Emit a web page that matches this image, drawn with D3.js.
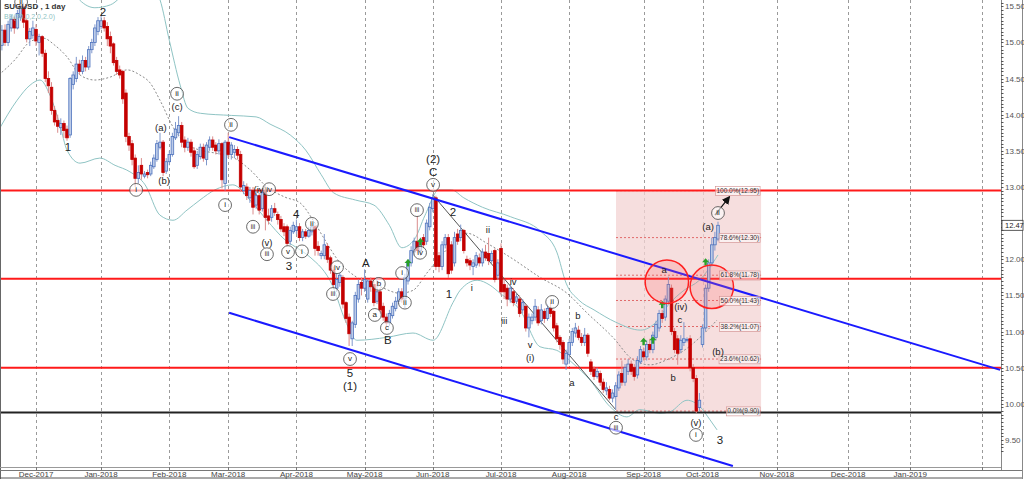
<!DOCTYPE html>
<html>
<head>
<meta charset="utf-8">
<script src="https://cdn.jsdelivr.net/npm/d3@7"></script>
<style>
  body { margin: 0; background: #fff; overflow: hidden; }
  text { font-family: Arial, "Liberation Sans", sans-serif; }
</style>
</head>
<body>
<svg id="chart" width="1024" height="479"></svg>
<script>
// daily candles, one row per trading day from mid Nov 2017: [open, high, low, close]
var candles = [
  [14.96,15.24,14.89,15.17],[15.17,15.25,14.95,15.0],[15.0,15.3,14.95,15.25],[15.2,15.38,15.15,15.32],[15.32,15.36,15.12,15.2],
  [15.2,15.45,15.18,15.4],[15.35,15.56,15.3,15.5],[15.5,15.55,15.2,15.28],[15.3,15.33,15.0,15.05],[15.05,15.2,14.95,15.15],
  [15.1,15.3,15.05,15.2],[15.18,15.25,14.95,15.02],[15.0,15.12,14.82,15.08],[15.08,15.1,14.8,14.85],[14.85,14.9,14.45,14.5],
  [14.5,14.6,14.3,14.4],[14.38,14.45,14.0,14.06],[14.06,14.12,13.85,13.9],[13.92,14.0,13.75,13.84],[13.82,13.95,13.72,13.88],
  [13.88,13.92,13.68,13.78],[13.8,13.85,13.64,13.68],[13.72,14.52,13.68,14.5],[14.42,14.6,14.35,14.55],[14.5,14.8,14.45,14.7],
  [14.7,14.76,14.55,14.6],[14.6,14.82,14.56,14.75],[14.75,14.8,14.6,14.66],[14.66,14.95,14.62,14.9],[14.9,15.05,14.85,15.0],
  [15.0,15.25,14.95,15.2],[15.15,15.35,15.1,15.3],[15.22,15.38,15.18,15.3],[15.3,15.35,15.15,15.2],[15.22,15.28,14.95,15.05],
  [15.08,15.15,14.85,14.95],[14.98,15.0,14.68,14.72],[14.75,14.8,14.55,14.6],[14.62,14.68,14.5,14.55],[14.6,14.62,14.15,14.22],
  [14.3,14.35,13.62,13.7],[13.7,13.75,13.5,13.58],[13.6,13.65,13.3,13.38],[13.4,13.45,13.0,13.12],[13.12,13.3,13.05,13.2],
  [13.3,13.4,13.1,13.18],[13.15,13.22,13.12,13.18],[13.2,13.24,13.12,13.17],[13.18,13.35,13.15,13.3],[13.28,13.45,13.25,13.4],
  [13.38,13.65,13.35,13.6],[13.55,13.75,13.52,13.62],[13.62,13.65,13.15,13.2],[13.22,13.4,13.18,13.35],[13.35,13.5,13.3,13.45],
  [13.45,13.75,13.42,13.7],[13.68,13.9,13.65,13.8],[13.75,13.98,13.7,13.85],[13.85,13.9,13.55,13.62],[13.65,13.7,13.48,13.55],
  [13.55,13.68,13.5,13.62],[13.62,13.66,13.42,13.48],[13.5,13.55,13.25,13.28],[13.3,13.5,13.25,13.45],[13.42,13.6,13.38,13.55],
  [13.55,13.6,13.35,13.4],[13.38,13.62,13.3,13.58],[13.55,13.7,13.5,13.65],[13.65,13.7,13.5,13.55],[13.58,13.62,13.45,13.5],
  [13.5,13.66,13.45,13.6],[13.6,13.62,12.98,13.1],[13.05,13.65,12.95,13.62],[13.62,13.75,13.4,13.45],[13.45,13.62,13.38,13.58],
  [13.48,13.58,13.4,13.52],[13.52,13.56,13.38,13.44],[13.45,13.5,12.93,13.0],[12.95,13.08,12.9,13.02],[13.0,13.05,12.82,12.88],
  [12.85,13.0,12.78,12.95],[12.95,13.0,12.62,12.72],[12.75,12.95,12.7,12.88],[12.88,12.92,12.62,12.68],[12.7,12.98,12.66,12.92],
  [12.95,13.0,12.4,12.58],[12.6,12.7,12.48,12.54],[12.58,12.75,12.52,12.7],[12.7,12.78,12.6,12.65],[12.62,12.66,12.48,12.55],
  [12.55,12.6,12.38,12.42],[12.45,12.5,12.32,12.38],[12.45,12.48,12.18,12.22],[12.25,12.45,12.2,12.4],[12.38,12.52,12.35,12.47],
  [12.4,12.55,12.35,12.45],[12.45,12.5,12.25,12.3],[12.3,12.42,12.25,12.38],[12.38,12.42,12.28,12.32],[12.32,12.45,12.3,12.4],
  [12.38,12.5,12.33,12.45],[12.45,12.48,12.05,12.15],[12.18,12.25,12.05,12.12],[12.05,12.12,12.0,12.08],[12.05,12.35,12.0,12.2],
  [12.18,12.22,11.95,12.0],[12.02,12.05,11.8,11.85],[11.85,11.9,11.6,11.65],[11.6,11.8,11.55,11.72],[11.68,11.82,11.62,11.78],
  [11.75,11.78,11.32,11.38],[11.4,11.42,11.12,11.18],[11.2,11.25,10.8,10.97],[10.9,11.15,10.8,11.12],[11.1,11.55,11.05,11.5],
  [11.45,11.72,11.4,11.65],[11.68,11.75,11.5,11.6],[11.6,11.86,11.55,11.72],[11.45,11.72,11.4,11.7],[11.7,11.75,11.55,11.62],
  [11.65,11.7,11.35,11.4],[11.42,11.75,11.38,11.55],[11.55,11.6,11.25,11.3],[11.35,11.4,11.15,11.2],[11.2,11.25,11.06,11.12],
  [11.12,11.3,11.08,11.25],[11.22,11.4,11.18,11.35],[11.32,11.48,11.28,11.42],[11.42,11.6,11.38,11.55],[11.55,11.6,11.4,11.45],
  [11.45,11.8,11.32,11.75],[11.7,12.0,11.65,11.95],[11.95,12.18,11.9,12.12],[12.1,12.3,12.05,12.25],[12.25,12.6,12.08,12.12],
  [12.12,12.3,12.05,12.25],[12.3,12.35,12.15,12.2],[12.25,12.55,12.2,12.5],[12.45,12.78,12.4,12.72],[12.7,12.9,12.65,12.85],
  [12.85,12.88,11.85,11.9],[12.05,12.1,11.82,11.9],[11.9,12.25,11.85,12.2],[12.2,12.35,12.15,12.3],[12.3,12.35,11.74,11.8],
  [12.2,12.25,11.8,11.85],[11.95,12.38,11.9,12.3],[12.35,12.42,12.2,12.25],[12.3,12.48,12.25,12.4],[12.4,12.42,12.08,12.12],
  [12.0,12.05,11.9,11.95],[11.98,12.02,11.85,11.92],[11.9,12.0,11.78,11.95],[11.92,12.1,11.88,12.05],[12.02,12.08,11.9,11.95],
  [11.95,12.15,11.9,12.1],[12.1,12.2,11.98,12.02],[12.08,12.3,11.92,11.98],[11.98,12.12,11.95,12.08],[12.12,12.15,11.68,11.72],
  [11.78,12.0,11.72,11.95],[12.15,12.22,11.5,11.55],[11.65,11.72,11.45,11.55],[11.6,11.65,11.35,11.45],[11.45,11.65,11.4,11.6],
  [11.55,11.6,11.35,11.4],[11.42,11.52,11.38,11.48],[11.45,11.5,11.2,11.25],[11.3,11.45,11.25,11.4],[11.35,11.38,11.0,11.05],
  [11.05,11.25,10.92,11.2],[11.15,11.25,11.1,11.2],[11.2,11.45,11.15,11.35],[11.3,11.35,11.08,11.12],[11.15,11.38,11.1,11.3],
  [11.28,11.32,11.12,11.18],[11.18,11.38,11.15,11.32],[11.32,11.4,11.2,11.25],[11.28,11.3,11.0,11.05],[11.08,11.12,10.85,10.9],
  [10.92,10.95,10.75,10.82],[10.85,10.88,10.55,10.62],[10.55,10.75,10.47,10.7],[10.68,10.9,10.55,10.85],[10.85,11.05,10.8,11.0],
  [10.98,11.12,10.92,11.05],[11.02,11.08,10.88,10.92],[10.92,10.98,10.8,10.85],[10.85,11.05,10.8,10.95],[10.95,10.98,10.65,10.7],
  [10.58,10.62,10.4,10.45],[10.48,10.52,10.33,10.38],[10.38,10.5,10.35,10.45],[10.42,10.46,10.25,10.3],[10.3,10.35,10.15,10.2],
  [10.18,10.3,10.12,10.22],[10.2,10.25,10.05,10.08],[10.08,10.2,10.02,10.15],[10.1,10.3,9.92,10.25],[10.22,10.45,10.18,10.4],
  [10.42,10.6,10.25,10.3],[10.3,10.55,10.25,10.5],[10.45,10.62,10.4,10.55],[10.55,10.6,10.4,10.45],[10.5,10.55,10.32,10.38],
  [10.4,10.66,10.35,10.6],[10.58,10.8,10.55,10.75],[10.72,10.78,10.6,10.65],[10.65,10.88,10.6,10.82],[10.82,10.9,10.7,10.75],
  [10.75,11.0,10.7,10.95],[10.92,11.15,10.88,11.1],[11.05,11.3,11.0,11.25],[11.25,11.3,11.12,11.18],[11.2,11.5,11.15,11.45],
  [11.42,11.76,11.38,11.65],[11.6,11.65,10.95,11.0],[11.0,11.05,10.7,10.75],[10.9,10.95,10.54,10.7],[10.75,10.95,10.7,10.88],
  [10.85,11.13,10.8,10.9],[10.88,10.92,10.85,10.89],[10.9,10.95,10.45,10.5],[10.5,10.55,10.3,10.35],[10.35,10.4,9.87,9.9],
  [9.95,10.15,9.9,10.05],[10.82,11.1,10.78,11.05],[11.05,11.65,11.0,11.6],[11.6,12.0,11.55,11.95],[11.95,12.3,11.9,12.2],
  [12.2,12.38,12.12,12.3],[12.28,12.52,12.25,12.47]
];
var lastPrice = 12.47;

// Bollinger band (20, 2): [bar, price]
var bbUpper = [[-1,16.55],[9,16.42],[19,16.0],[25,15.59],[30,15.48],[35,15.52],[41,15.72],[48,15.79],[51,15.59],[54,15.03],
  [57.5,14.41],[60,14.09],[64,14.02],[74,13.99],[82,13.97],[86.5,13.87],[93,13.72],[98,13.51],[103,13.17],[107,12.92],
  [114,12.82],[120,12.75],[125,12.47],[129,12.16],[133,12.27],[136.5,12.61],[141,12.96],[145,12.96],[149,12.85],[155,12.72],
  [164,12.59],[174,12.38],[179,12.10],[182,11.67],[186,11.44],[191,11.30],[198,11.13],[206,11.02],[211,11.13],[215,11.37],
  [220,11.57],[225,11.71],[231,12.06]];
var bbMiddle = [[-1,14.55],[4.2,14.76],[9.1,15.01],[13.3,15.06],[17.1,14.96],[21,14.80],[25.2,14.55],[30,14.48],[34.9,14.52],
  [40.4,14.62],[44.5,14.55],[47.8,14.44],[51,14.20],[55.2,13.83],[59.1,13.61],[63.9,13.51],[68.7,13.47],[74.5,13.41],[80,13.24],
  [85.5,13.0],[91.3,12.86],[96.2,12.78],[100.4,12.54],[103.6,12.31],[109.1,11.95],[114.5,11.75],[122,11.62],[128.4,11.53],
  [132.6,11.57],[137.1,11.81],[141.3,12.03],[145.5,12.22],[150,12.36],[156.5,12.22],[163.9,12.03],[173.6,11.75],[182.3,11.53],
  [188.7,11.26],[197.1,10.92],[203.6,10.61],[209.1,10.54],[214.5,10.61],[220.4,10.75],[225.2,10.92],[230.7,11.16]];
var bbLower = [[-1,13.79],[4.9,14.20],[9.1,14.41],[12.3,14.48],[15.5,14.27],[18.7,13.86],[21,13.51],[25.2,13.33],[31.6,13.40],
  [36.5,13.30],[41.3,13.21],[46.2,13.03],[51,12.61],[55.2,12.54],[59.7,12.68],[63.9,12.82],[68.7,12.96],[74.5,13.03],[80,12.82],
  [85.5,12.54],[91.3,12.27],[96.2,12.13],[99.4,12.03],[106.8,11.62],[110.7,11.16],[114.5,10.88],[124.2,10.92],[132.6,10.98],
  [139.1,10.88],[145.5,11.40],[147.8,11.57],[153.3,11.71],[157.5,11.64],[160.7,11.53],[167.1,11.30],[173.6,10.79],[179,10.74],
  [184.2,10.56],[189.7,10.33],[196.2,9.96],[201.6,9.82],[205.8,9.92],[212.3,9.87],[215.5,9.89],[221,10.05],[225.2,9.96],
  [228.4,9.78],[230.7,9.64]];

// time axis
var monthLabels = ["Dec-2017","Jan-2018","Feb-2018","Mar-2018","Apr-2018","May-2018","Jun-2018","Jul-2018",
  "Aug-2018","Sep-2018","Oct-2018","Nov-2018","Dec-2018","Jan-2019",""];
var monthBars = [11, 32, 54, 73, 95, 117, 139, 161, 183, 207, 226, 250, 273, 293, 316];

// price axis (12.50 is hidden behind the last price box)
var priceTicks = [9.5, 10, 10.5, 11, 11.5, 12, 13, 13.5, 14, 14.5, 15, 15.5];

// drawn levels
var redLevels = [12.95, 11.73, 10.50];
var blackLevel = 9.88;
var fibLevels = [12.95, 12.30, 11.78, 11.43, 11.07, 10.62, 9.90];
var fibNames = ["100.0%", "78.6%", "61.8%", "50.0%", "38.2%", "23.6%", "0.0%"];
var fibBars = [198.1, 244.9];

// trend lines [[bar, price], [bar, price]]
var channelTop = [[73.3, 13.69], [322, 10.47]];
var channelBottom = [[73.3, 11.26], [235.8, 9.14]];
var waveLine = [[139, 12.89], [198, 9.92]];
var targetArrow = [[230, 12.61], [234.6, 12.86]];
var zoneCircles = [[214.5, 11.69], [229, 11.62]];
var buyArrows = [[131, 11.95], [135, 12.24], [207, 10.86], [210, 10.88], [213, 11.37], [227, 11.96]];

// wave labels: [bar, price, text, kind]  kind: c = circled, s = serif, n = plain
var waveLabels = [
  [6.2,15.56,"ii","c"],[32.6,15.42,"2","n"],[21.3,13.55,"1","n"],[43.3,12.96,"i","c"],
  [51.3,13.82,"(a)","s"],[52.3,13.08,"(b)","s"],[56.5,14.11,"(c)","s"],[56.5,14.29,"ii","c"],
  [73.9,13.86,"ii","c"],[72,12.75,"i","c"],[83.3,12.96,"(iv)","s"],[86.2,12.97,"iv","c"],
  [81,12.45,"iii","c"],[85.5,12.22,"(v)","s"],[85.5,12.07,"iii","c"],[94.9,12.63,"4","n"],
  [92.3,12.10,"v","c"],[92.6,11.91,"3","n"],[96.8,12.11,"i","c"],[100,12.49,"ii","c"],
  [108.1,11.89,"iv","c"],[106.8,11.52,"iii","c"],[112.3,10.62,"v","c"],[112.3,10.43,"5","n"],
  [112.3,10.25,"(1)","n"],[117.4,11.95,"A","n"],[121.6,11.66,"b","c"],[120.3,11.23,"a","c"],
  [124.2,11.05,"c","c"],[124.5,10.88,"B","n"],[129.1,11.81,"i","c"],[130,11.40,"ii","c"],
  [133.9,12.68,"iii","c"],[134.9,12.09,"iv","c"],[139.1,13.39,"(2)","n"],[139.1,13.21,"C","n"],
  [139.1,13.03,"v","c"],[145.5,12.65,"2","n"],[144.2,11.52,"1","n"],[151.6,11.60,"i","s"],
  [156.8,12.40,"ii","s"],[164.9,11.69,"iv","s"],[162,11.15,"iii","s"],[170.4,10.81,"v","s"],
  [170.4,10.63,"(i)","s"],[177.5,11.41,"ii","c"],[185.8,11.22,"b","s"],[183.9,10.29,"a","s"],
  [198.1,9.82,"c","s"],[198.1,9.67,"iii","c"],[213.6,11.85,"a","s"],[219,11.34,"(iv)","s"],
  [218.7,11.16,"c","s"],[216.5,10.36,"b","s"],[231,10.72,"(b)","s"],[227.8,12.45,"(a)","s"],
  [231,12.64,"ii","c"],[223.9,9.74,"(v)","s"],[223.9,9.57,"i","c"],[231.6,9.50,"3","n"]
];

var width = 1024, height = 479;
var plotRight = 1001, plotBottom = 467;

var x = d3.scaleLinear().domain([0, 320]).range([1.9, 993.9]);
var y = d3.scaleLinear().domain([9.5, 13]).range([440, 187]);

var svg = d3.select("#chart");
var defs = svg.append("defs");
defs.append("clipPath").attr("id", "plotclip")
  .append("rect").attr("x", 0).attr("y", 0).attr("width", plotRight).attr("height", plotBottom);
defs.append("marker").attr("id", "arrowhead")
  .attr("viewBox", "0 0 10 10").attr("refX", 8).attr("refY", 5)
  .attr("markerWidth", 7).attr("markerHeight", 7).attr("orient", "auto")
  .append("path").attr("d", "M0,0 L10,5 L0,10 z").attr("fill", "#111");

var plot = svg.append("g").attr("clip-path", "url(#plotclip)");

// month grid lines
plot.selectAll(".vgrid").data(monthBars).enter().append("line")
  .attr("x1", function(d) { return Math.round(x(d)) + 0.5; })
  .attr("x2", function(d) { return Math.round(x(d)) + 0.5; })
  .attr("y1", 0).attr("y2", plotBottom)
  .attr("stroke", "#9a9a9a").attr("stroke-dasharray", "3,3").attr("stroke-width", 1);

// fibonacci box
plot.append("rect")
  .attr("x", x(fibBars[0])).attr("width", x(fibBars[1]) - x(fibBars[0]))
  .attr("y", y(fibLevels[0])).attr("height", y(fibLevels[fibLevels.length - 1]) - y(fibLevels[0]))
  .attr("fill", "#f3d3d3").attr("fill-opacity", 0.75);

plot.selectAll(".fib").data(fibLevels).enter().append("line")
  .attr("x1", x(fibBars[0])).attr("x2", x(fibBars[1]))
  .attr("y1", function(d) { return y(d); }).attr("y2", function(d) { return y(d); })
  .attr("stroke", "#e06a6a").attr("stroke-width", 1).attr("stroke-dasharray", "2,2");

// bollinger bands
var bandLine = d3.line()
  .x(function(d) { return x(d[0]); })
  .y(function(d) { return y(d[1]); })
  .curve(d3.curveMonotoneX);

plot.append("path").attr("d", bandLine(bbUpper)).attr("fill", "none").attr("stroke", "#8fc4c4").attr("stroke-width", 1);
plot.append("path").attr("d", bandLine(bbLower)).attr("fill", "none").attr("stroke", "#8fc4c4").attr("stroke-width", 1);
plot.append("path").attr("d", bandLine(bbMiddle)).attr("fill", "none").attr("stroke", "#8a8a8a")
  .attr("stroke-width", 1).attr("stroke-dasharray", "2,2");

// horizontal levels
plot.selectAll(".lvl").data(redLevels).enter().append("line")
  .attr("x1", 0).attr("x2", plotRight)
  .attr("y1", function(d) { return y(d); }).attr("y2", function(d) { return y(d); })
  .attr("stroke", "#ff1a1a").attr("stroke-width", 2);
plot.append("line")
  .attr("x1", 0).attr("x2", plotRight).attr("y1", y(blackLevel)).attr("y2", y(blackLevel))
  .attr("stroke", "#222").attr("stroke-width", 2);

// wave trend line
plot.append("line")
  .attr("x1", x(waveLine[0][0])).attr("y1", y(waveLine[0][1]))
  .attr("x2", x(waveLine[1][0])).attr("y2", y(waveLine[1][1]))
  .attr("stroke", "#555").attr("stroke-width", 1);

// candles
var bodyW = 2.6;
var candle = plot.selectAll(".candle").data(candles).enter().append("g");
candle.append("line")
  .attr("x1", function(d, i) { return x(i); }).attr("x2", function(d, i) { return x(i); })
  .attr("y1", function(d) { return y(d[1]); }).attr("y2", function(d) { return y(d[2]); })
  .attr("stroke", function(d) { return d[3] >= d[0] ? "#7f98cc" : "#d98c8c"; })
  .attr("stroke-width", 1);
candle.append("rect")
  .attr("x", function(d, i) { return x(i) - bodyW / 2; })
  .attr("width", bodyW)
  .attr("y", function(d) { return y(Math.max(d[0], d[3])); })
  .attr("height", function(d) { return Math.max(0.8, Math.abs(y(d[0]) - y(d[3]))); })
  .attr("fill", function(d) { return d[3] >= d[0] ? "#bccbe8" : "#c40000"; })
  .attr("stroke", function(d) { return d[3] >= d[0] ? "#4d72bd" : "#c40000"; })
  .attr("stroke-width", 0.8);

// buy arrows
plot.selectAll(".buy").data(buyArrows).enter().append("path")
  .attr("transform", function(d) { return "translate(" + x(d[0]) + "," + y(d[1]) + ")"; })
  .attr("d", "M0,-4 L3.5,0 L1.2,0 L1.2,3.5 L-1.2,3.5 L-1.2,0 L-3.5,0 z")
  .attr("fill", "#2aa02a");

// channel
[channelTop, channelBottom].forEach(function(c) {
  plot.append("line")
    .attr("x1", x(c[0][0])).attr("y1", y(c[0][1]))
    .attr("x2", x(c[1][0])).attr("y2", y(c[1][1]))
    .attr("stroke", "#1a1aff").attr("stroke-width", 2);
});

// zone circles
plot.selectAll(".zone").data(zoneCircles).enter().append("circle")
  .attr("cx", function(d) { return x(d[0]); }).attr("cy", function(d) { return y(d[1]); })
  .attr("r", 21.7)
  .attr("fill", "#ff6a6a").attr("fill-opacity", 0.22)
  .attr("stroke", "#ff2020").attr("stroke-width", 1.5);

// target arrow
plot.append("line")
  .attr("x1", x(targetArrow[0][0])).attr("y1", y(targetArrow[0][1]))
  .attr("x2", x(targetArrow[1][0])).attr("y2", y(targetArrow[1][1]))
  .attr("stroke", "#111").attr("stroke-width", 1.2).attr("marker-end", "url(#arrowhead)");

// fib labels
var fibLab = plot.selectAll(".fiblab").data(fibLevels).enter().append("g");
fibLab.append("text")
  .attr("x", x(fibBars[1]) - 2)
  .attr("y", function(d) { return y(d) + 2.3; })
  .attr("text-anchor", "end")
  .attr("font-size", "6.5px")
  .attr("fill", "#333")
  .text(function(d, i) { return fibNames[i] + "(" + d.toFixed(2) + ")"; });
fibLab.each(function() {
  var g = d3.select(this), bb = g.select("text").node().getBBox();
  g.insert("rect", "text")
    .attr("x", bb.x - 1).attr("y", bb.y - 0.5).attr("width", bb.width + 2).attr("height", bb.height + 1)
    .attr("fill", "#fff").attr("fill-opacity", 0.55).attr("stroke", "#d08a8a").attr("stroke-width", 0.6);
});

// wave labels
var wl = plot.selectAll(".wave").data(waveLabels).enter().append("g")
  .attr("transform", function(d) { return "translate(" + x(d[0]) + "," + y(d[1]) + ")"; });
wl.filter(function(d) { return d[3] === "c"; }).append("circle")
  .attr("r", 6.4).attr("fill", "#fff").attr("fill-opacity", 0.6)
  .attr("stroke", "#444").attr("stroke-width", 0.8);
wl.append("text")
  .attr("text-anchor", "middle")
  .attr("dy", function(d) { return d[3] === "n" ? "0.36em" : "0.3em"; })
  .attr("font-family", function(d) { return d[3] === "n" ? "Arial, 'Liberation Sans', sans-serif" : "'Liberation Serif', 'DejaVu Serif', serif"; })
  .attr("font-size", function(d) { return d[3] === "n" ? "11.5px" : (d[3] === "c" ? (d[2].length > 2 ? "6.5px" : "8px") : "9.5px"); })
  .attr("fill", "#222")
  .text(function(d) { return d[2]; });

// frame
svg.append("line").attr("x1", 0.5).attr("x2", 0.5).attr("y1", 0).attr("y2", height).attr("stroke", "#666");
svg.append("line").attr("x1", 0).attr("x2", plotRight).attr("y1", plotBottom + 0.5).attr("y2", plotBottom + 0.5).attr("stroke", "#999");
svg.append("line").attr("x1", 0).attr("x2", 1023).attr("y1", plotBottom + 3.5).attr("y2", plotBottom + 3.5).attr("stroke", "#777");
svg.append("line").attr("x1", 0).attr("x2", 1023).attr("y1", height - 1).attr("y2", height - 1).attr("stroke", "#555");
svg.append("line").attr("x1", plotRight + 0.5).attr("x2", plotRight + 0.5).attr("y1", 0).attr("y2", plotBottom + 3).attr("stroke", "#888");
svg.append("line").attr("x1", 1022.5).attr("x2", 1022.5).attr("y1", 0).attr("y2", height).attr("stroke", "#888");

// price axis
var minorTicks = d3.range(9.35, 15.6, 0.05);
svg.selectAll(".minor").data(minorTicks).enter().append("line")
  .attr("x1", plotRight).attr("x2", plotRight + 2.5)
  .attr("y1", function(d) { return Math.round(y(d)) + 0.5; })
  .attr("y2", function(d) { return Math.round(y(d)) + 0.5; })
  .attr("stroke", "#555").attr("stroke-width", 1);
svg.selectAll(".ptick").data(priceTicks).enter().append("text")
  .attr("x", plotRight + 4).attr("y", function(d) { return y(d) + 3; })
  .attr("font-size", "8px").attr("fill", "#555")
  .text(function(d) { return d.toFixed(2); });

var lp = svg.append("g").attr("transform", "translate(" + (plotRight + 1) + "," + y(lastPrice) + ")");
lp.append("rect").attr("x", 0).attr("y", -5).attr("width", 21).attr("height", 10)
  .attr("fill", "#fff").attr("stroke", "#333").attr("stroke-width", 0.8);
lp.append("text").attr("x", 3).attr("y", 3).attr("font-size", "7.5px").attr("fill", "#222").text(lastPrice.toFixed(2));

// time axis labels
svg.selectAll(".mtick").data(monthBars).enter().append("line")
  .attr("x1", function(d) { return Math.round(x(d)) + 0.5; })
  .attr("x2", function(d) { return Math.round(x(d)) + 0.5; })
  .attr("y1", plotBottom).attr("y2", plotBottom + 4)
  .attr("stroke", "#777");
svg.selectAll(".mlab").data(monthBars).enter().append("text")
  .attr("x", function(d) { return x(d); }).attr("y", 477)
  .attr("text-anchor", "middle").attr("font-size", "8px").attr("fill", "#444")
  .text(function(d, i) { return monthLabels[i]; });

// header
svg.append("text").attr("x", 4).attr("y", 9).attr("font-size", "8px").attr("font-weight", "bold").attr("fill", "#333")
  .text("SUGUSD , 1 day");
svg.append("text").attr("x", 4).attr("y", 19).attr("font-size", "7px").attr("fill", "#8fc4c4")
  .text("BB(20,0,2.0,2.0)");
</script>
</body>
</html>
